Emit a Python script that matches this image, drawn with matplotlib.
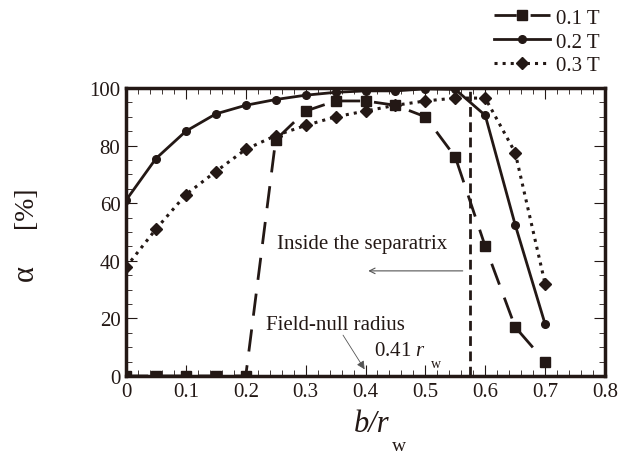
import matplotlib
matplotlib.use("Agg")
import matplotlib.pyplot as plt
from matplotlib.ticker import MultipleLocator

plt.rcParams['font.family'] = ['Liberation Serif', 'DejaVu Serif']
plt.rcParams['mathtext.fontset'] = 'custom'
plt.rcParams['mathtext.rm'] = 'Liberation Serif'
plt.rcParams['mathtext.it'] = 'Liberation Serif:italic'

x = [0, 0.05, 0.1, 0.15, 0.2, 0.25, 0.3, 0.35, 0.4, 0.45, 0.5, 0.55, 0.6, 0.65, 0.7]
a_01T = [0, 0, 0, 0, 0, 82, 92, 95.5, 95.5, 94, 90, 76, 45, 17, 5]
a_02T = [61, 75.5, 85, 91, 94, 96, 97.5, 98.5, 99, 99, 99.7, 99.5, 90.5, 52.5, 18]
a_03T = [37.8, 51, 63, 71, 78.7, 83.5, 87, 90, 92, 94, 95.5, 96.5, 96.5, 77.6, 32]
labels = ["0.1 T", "0.2 T", "0.3 T"]
separatrix_x = 0.575
xticks = [0, 0.1, 0.2, 0.3, 0.4, 0.5, 0.6, 0.7, 0.8]
xticklabels = ["0", "0.1", "0.2", "0.3", "0.4", "0.5", "0.6", "0.7", "0.8"]
yticks = [0, 20, 40, 60, 80, 100]

fig = plt.figure(figsize=(6.21, 4.60), dpi=100)
ax = fig.add_axes([126/621, 1-377/460, (605-126)/621, (377-89)/460])

c = '#231815'
ax.plot(x, a_01T, color=c, lw=2, marker='s', ms=7, dashes=(8, 5), label=labels[0])
ax.plot(x, a_02T, color=c, lw=2, marker='o', ms=5.5, ls='-', label=labels[1])
ax.plot(x, a_03T, color=c, lw=2.2, marker='D', ms=6, ls=':', label=labels[2])

ax.axvline(separatrix_x, color=c, lw=2, dashes=(3.5, 2))

ax.set_xlim(0, 0.8)
ax.set_ylim(0, 100)
ax.set_xticks(xticks)
ax.set_xticklabels(xticklabels)
ax.set_yticks(yticks)
ax.xaxis.set_minor_locator(MultipleLocator(0.02))
ax.yaxis.set_minor_locator(MultipleLocator(5))
ax.tick_params(which='both', direction='in', top=True, right=True, labelsize=15, colors=c, pad=4)
ax.tick_params(which='major', length=8, width=0.8)
ax.tick_params(which='minor', length=4, width=0.6)
for s in ax.spines.values():
    s.set_linewidth(2.5)
    s.set_color(c)

# annotations
ax.annotate("", xy=(0.40, 36.5), xytext=(separatrix_x - 0.008, 36.5),
            arrowprops=dict(arrowstyle='->', color='#555555', lw=0.8))
ax.text(0.252, 46, "Inside the separatrix", fontsize=15, color=c, va='center', ha='left')
ax.text(0.233, 17.8, "Field-null radius", fontsize=15, color=c, va='center', ha='left')
ax.text(0.415, 9, "0.41 $r$", fontsize=15, color=c, va='center', ha='left')
ax.text(0.510, 4.5, "w", fontsize=10, color=c, va='center', ha='left')
ax.annotate("", xy=(0.401, 1.5), xytext=(0.36, 15),
            arrowprops=dict(arrowstyle='-|>', color='#555555', lw=0.6, mutation_scale=12))

# axis labels
fig.text(372/621, 1-425/460, "b/r", fontsize=22, style='italic', color=c, ha='center', va='center')
fig.text(399/621, 1-447/460, "w", fontsize=14, color=c, ha='center', va='center')
fig.text(25/621, 1-273/460, "α", fontsize=22, color=c, rotation=90, ha='center', va='center')
fig.text(25/621, 1-207/460, "[%]", fontsize=20, color=c, rotation=90, ha='center', va='center')

leg = ax.legend(loc='upper right', bbox_to_anchor=(604/621, 1-5/460), bbox_transform=fig.transFigure,
                frameon=False, fontsize=15, handlelength=2.7, handletextpad=0.3,
                labelspacing=0.2, borderaxespad=0.0, borderpad=0.2)
for t in leg.get_texts():
    t.set_color(c)

fig.savefig("out.png", dpi=100)
